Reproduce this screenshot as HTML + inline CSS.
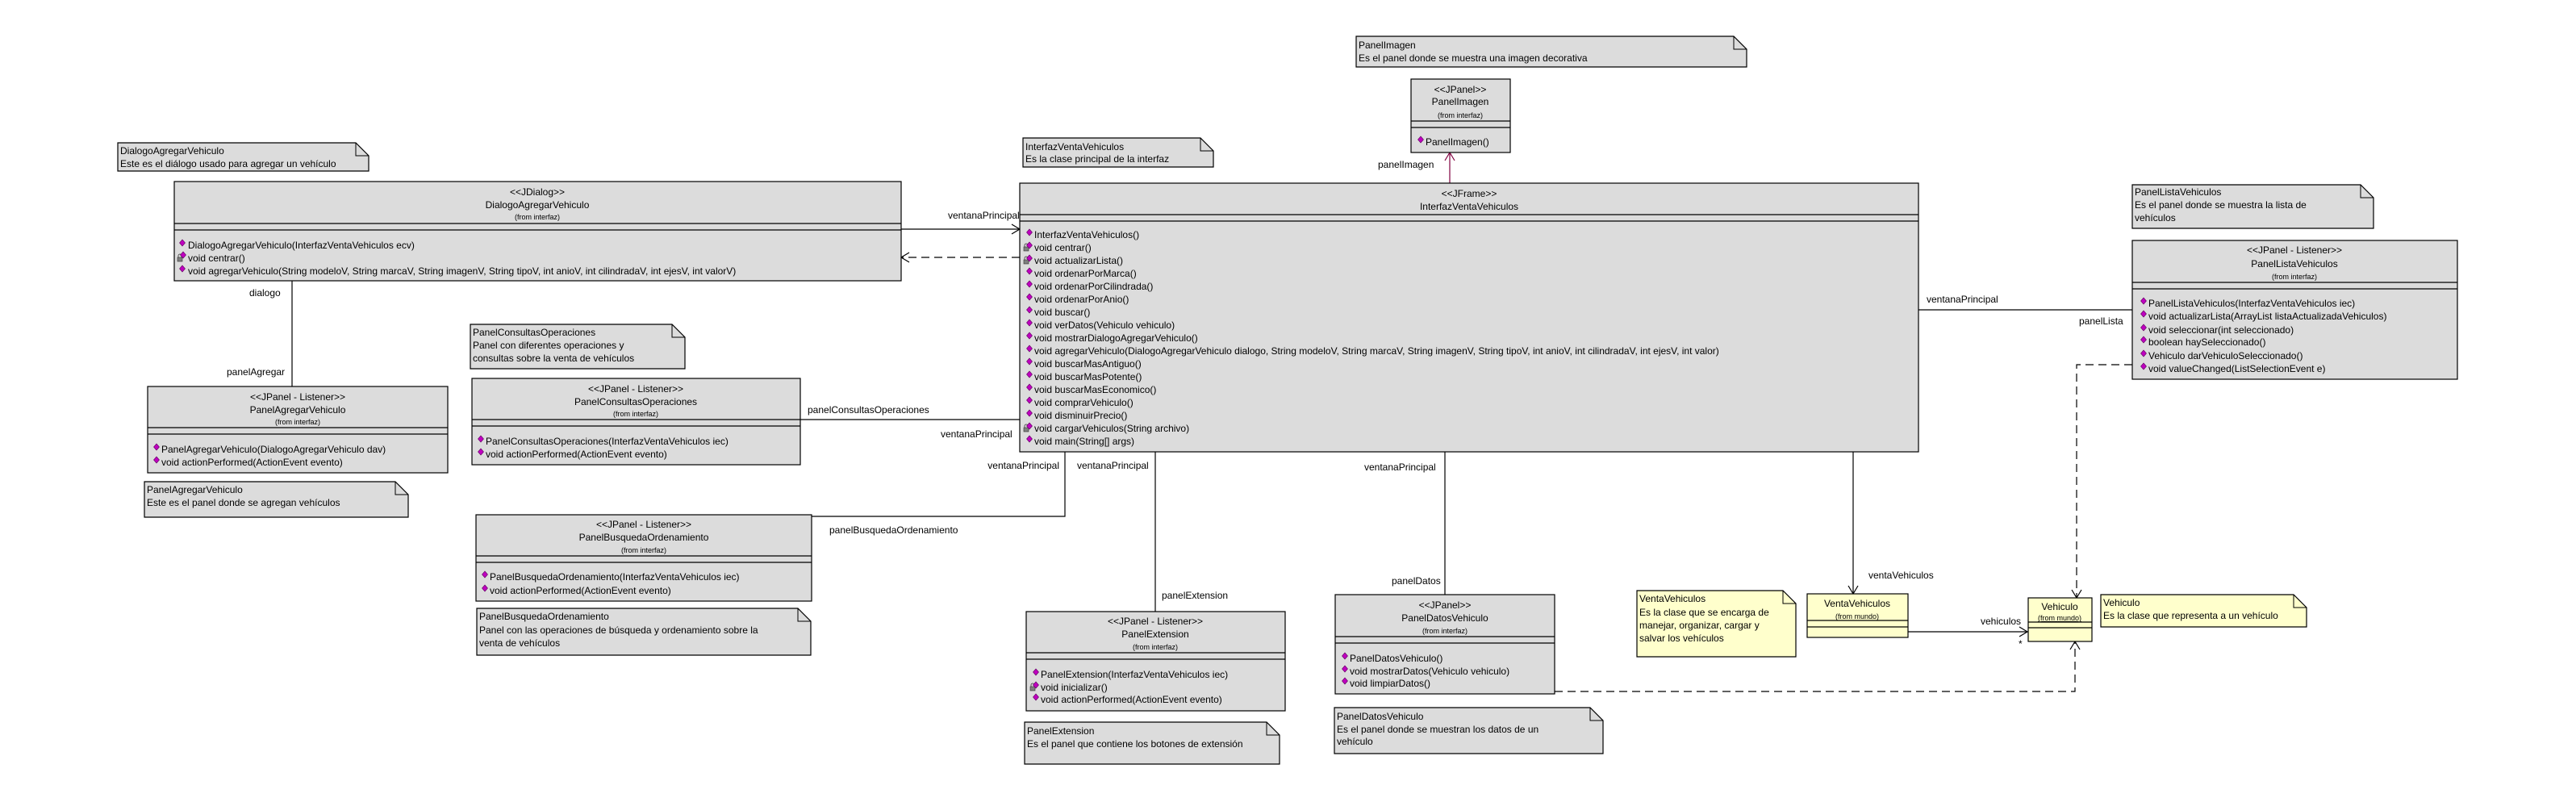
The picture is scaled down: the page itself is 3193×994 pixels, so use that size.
<!DOCTYPE html>
<html><head><meta charset="utf-8"><style>
html,body{margin:0;padding:0;background:#fff;}
svg{display:block;}
text{font-family:"Liberation Sans",Arial,sans-serif;font-size:12px;fill:#000;}
.s{font-size:9px;}
.c{text-anchor:middle;}
.e{text-anchor:end;}
</style></head><body>
<svg width="3193" height="994" viewBox="0 0 3193 994" xmlns="http://www.w3.org/2000/svg">
<defs>
<g id="d"><polygon points="0,-4 3.5,0 0,4 -3.5,0" fill="#c000c0" stroke="#600060" stroke-width="0.6"/></g>
<g id="l"><rect x="-3" y="-1" width="6" height="5" fill="#808080" stroke="#333" stroke-width="0.6"/><path d="M-2,-1 v-2 a2,2 0 0 1 4,0 v2" fill="none" stroke="#333" stroke-width="0.8"/></g>
</defs>
<rect width="3193" height="994" fill="#fff"/>

<!-- connectors -->
<g stroke="#000" stroke-width="1.2" fill="none">
<line x1="1117" y1="284" x2="1264" y2="284"/>
<polyline points="1254,278 1264,284 1254,290"/>
<line x1="1264" y1="319" x2="1117" y2="319" stroke-dasharray="10,6"/>
<polyline points="1127,313 1117,319 1127,325"/>
<line x1="362" y1="348" x2="362" y2="479"/>
<line x1="992" y1="520" x2="1264" y2="520"/>
<line x1="2378" y1="384" x2="2643" y2="384"/>
<polyline points="2643,452 2574,452 2574,741" stroke-dasharray="10,6"/>
<polyline points="2568,731 2574,741 2580,731"/>
<polyline points="1320,560 1320,640 1006,640"/>
<line x1="1432" y1="560" x2="1432" y2="758"/>
<line x1="1791" y1="560" x2="1791" y2="737"/>
<line x1="2297" y1="560" x2="2297" y2="736"/>
<polyline points="2291,726 2297,736 2303,726"/>
<line x1="2365" y1="783" x2="2513" y2="783"/>
<polyline points="2503,777 2513,783 2503,789"/>
<polyline points="1927,857 2572,857 2572,795" stroke-dasharray="10,6"/>
<polyline points="2566,805 2572,795 2578,805"/>
</g>
<g stroke="#800040" stroke-width="1.2" fill="none">
<line x1="1797" y1="227" x2="1797" y2="189"/>
<polyline points="1791,199 1797,189 1803,199"/>
</g>

<!-- connector labels -->
<text x="1175" y="271">ventanaPrincipal</text>
<text x="309" y="367">dialogo</text>
<text x="281" y="465">panelAgregar</text>
<text x="1001" y="512">panelConsultasOperaciones</text>
<text x="1166" y="542">ventanaPrincipal</text>
<text x="1708" y="208">panelImagen</text>
<text x="2388" y="375">ventanaPrincipal</text>
<text x="2577" y="402">panelLista</text>
<text x="1313" y="581" class="e">ventanaPrincipal</text>
<text x="1028" y="661">panelBusquedaOrdenamiento</text>
<text x="1335" y="581">ventanaPrincipal</text>
<text x="1440" y="742">panelExtension</text>
<text x="1691" y="583">ventanaPrincipal</text>
<text x="1725" y="724">panelDatos</text>
<text x="2316" y="717">ventaVehiculos</text>
<text x="2455" y="774">vehiculos</text>
<text x="2502" y="802">*</text>

<!-- notes -->
<g stroke="#000" stroke-width="1.2">
<path d="M146,177 H441 L457,193 V212 H146 Z" fill="#dcdcdc"/>
<path d="M179,597 H490 L506,613 V641 H179 Z" fill="#dcdcdc"/>
<path d="M583,402 H833 L849,418 V457 H583 Z" fill="#dcdcdc"/>
<path d="M1681,45 H2149 L2165,61 V83 H1681 Z" fill="#dcdcdc"/>
<path d="M1268,171 H1488 L1504,187 V207 H1268 Z" fill="#dcdcdc"/>
<path d="M2643,229 H2926 L2942,245 V283 H2643 Z" fill="#dcdcdc"/>
<path d="M591,754 H989 L1005,770 V812 H591 Z" fill="#dcdcdc"/>
<path d="M1270,895 H1570 L1586,911 V947 H1270 Z" fill="#dcdcdc"/>
<path d="M1654,877 H1971 L1987,893 V934 H1654 Z" fill="#dcdcdc"/>
<path d="M2029,732 H2210 L2226,748 V814 H2029 Z" fill="#ffffcc"/>
<path d="M2604,737 H2843 L2859,753 V777 H2604 Z" fill="#ffffcc"/>
</g>
<g fill="none" stroke="#000" stroke-width="1">
<polyline points="441,177 441,193 457,193"/>
<polyline points="490,597 490,613 506,613"/>
<polyline points="833,402 833,418 849,418"/>
<polyline points="2149,45 2149,61 2165,61"/>
<polyline points="1488,171 1488,187 1504,187"/>
<polyline points="2926,229 2926,245 2942,245"/>
<polyline points="989,754 989,770 1005,770"/>
<polyline points="1570,895 1570,911 1586,911"/>
<polyline points="1971,877 1971,893 1987,893"/>
<polyline points="2210,732 2210,748 2226,748"/>
<polyline points="2843,737 2843,753 2859,753"/>
</g>
<text x="149" y="191">DialogoAgregarVehiculo</text>
<text x="149" y="207">Este es el diálogo usado para agregar un vehículo</text>
<text x="182" y="611">PanelAgregarVehiculo</text>
<text x="182" y="627">Este es el panel donde se agregan vehículos</text>
<text x="586" y="416">PanelConsultasOperaciones</text>
<text x="586" y="432">Panel con diferentes operaciones y</text>
<text x="586" y="448">consultas sobre la venta de vehículos</text>
<text x="1684" y="60">PanelImagen</text>
<text x="1684" y="76">Es el panel donde se muestra una imagen decorativa</text>
<text x="1271" y="186">InterfazVentaVehiculos</text>
<text x="1271" y="201">Es la clase principal de la interfaz</text>
<text x="2646" y="242">PanelListaVehiculos</text>
<text x="2646" y="258">Es el panel donde se muestra la lista de</text>
<text x="2646" y="274">vehículos</text>
<text x="594" y="768">PanelBusquedaOrdenamiento</text>
<text x="594" y="785">Panel con las operaciones de búsqueda y ordenamiento sobre la</text>
<text x="594" y="801">venta de vehículos</text>
<text x="1273" y="910">PanelExtension</text>
<text x="1273" y="926">Es el panel que contiene los botones de extensión</text>
<text x="1657" y="892">PanelDatosVehiculo</text>
<text x="1657" y="908">Es el panel donde se muestran los datos de un</text>
<text x="1657" y="923">vehículo</text>
<text x="2032" y="746">VentaVehiculos</text>
<text x="2032" y="763">Es la clase que se encarga de</text>
<text x="2032" y="779">manejar, organizar, cargar y</text>
<text x="2032" y="795">salvar los vehículos</text>
<text x="2607" y="751">Vehiculo</text>
<text x="2607" y="767">Es la clase que representa a un vehículo</text>

<!-- class boxes -->
<g stroke="#000" stroke-width="1.2" fill="#dcdcdc">
<rect x="216" y="225" width="901" height="123"/>
<rect x="183" y="479" width="372" height="107"/>
<rect x="585" y="469" width="407" height="107"/>
<rect x="1264" y="227" width="1114" height="333"/>
<rect x="1749" y="98" width="123" height="91"/>
<rect x="2643" y="298" width="403" height="172"/>
<rect x="590" y="638" width="416" height="107"/>
<rect x="1272" y="758" width="321" height="123"/>
<rect x="1655" y="737" width="272" height="123"/>
<rect x="2240" y="736" width="125" height="54" fill="#ffffcc"/>
<rect x="2514" y="741" width="79" height="54" fill="#ffffcc"/>
</g>
<g stroke="#000" stroke-width="1.2">
<line x1="216" y1="277" x2="1117" y2="277"/><line x1="216" y1="285" x2="1117" y2="285"/>
<line x1="183" y1="530" x2="555" y2="530"/><line x1="183" y1="538" x2="555" y2="538"/>
<line x1="585" y1="520" x2="992" y2="520"/><line x1="585" y1="528" x2="992" y2="528"/>
<line x1="1264" y1="266" x2="2378" y2="266"/><line x1="1264" y1="274" x2="2378" y2="274"/>
<line x1="1749" y1="150" x2="1872" y2="150"/><line x1="1749" y1="158" x2="1872" y2="158"/>
<line x1="2643" y1="350" x2="3046" y2="350"/><line x1="2643" y1="358" x2="3046" y2="358"/>
<line x1="590" y1="689" x2="1006" y2="689"/><line x1="590" y1="697" x2="1006" y2="697"/>
<line x1="1272" y1="809" x2="1593" y2="809"/><line x1="1272" y1="817" x2="1593" y2="817"/>
<line x1="1655" y1="789" x2="1927" y2="789"/><line x1="1655" y1="797" x2="1927" y2="797"/>
<line x1="2240" y1="769" x2="2365" y2="769"/><line x1="2240" y1="777" x2="2365" y2="777"/>
<line x1="2514" y1="771" x2="2593" y2="771"/><line x1="2514" y1="778" x2="2593" y2="778"/>
</g>

<!-- Dialog -->
<text x="666" y="242" class="c">&lt;&lt;JDialog&gt;&gt;</text>
<text x="666" y="258" class="c">DialogoAgregarVehiculo</text>
<text x="666" y="272" class="c s">(from interfaz)</text>
<use href="#d" x="226" y="301"/><text x="233" y="308">DialogoAgregarVehiculo(InterfazVentaVehiculos ecv)</text>
<use href="#l" x="223" y="320"/><use href="#d" x="227" y="316"/><text x="233" y="324">void centrar()</text>
<use href="#d" x="226" y="333"/><text x="233" y="340">void agregarVehiculo(String modeloV, String marcaV, String imagenV, String tipoV, int anioV, int cilindradaV, int ejesV, int valorV)</text>

<!-- PanelAgregar -->
<text x="369" y="496" class="c">&lt;&lt;JPanel - Listener&gt;&gt;</text>
<text x="369" y="512" class="c">PanelAgregarVehiculo</text>
<text x="369" y="526" class="c s">(from interfaz)</text>
<use href="#d" x="194" y="554"/><text x="200" y="561">PanelAgregarVehiculo(DialogoAgregarVehiculo dav)</text>
<use href="#d" x="194" y="570"/><text x="200" y="577">void actionPerformed(ActionEvent evento)</text>

<!-- PanelConsultas -->
<text x="788" y="486" class="c">&lt;&lt;JPanel - Listener&gt;&gt;</text>
<text x="788" y="502" class="c">PanelConsultasOperaciones</text>
<text x="788" y="516" class="c s">(from interfaz)</text>
<use href="#d" x="596" y="544"/><text x="602" y="551">PanelConsultasOperaciones(InterfazVentaVehiculos iec)</text>
<use href="#d" x="596" y="560"/><text x="602" y="567">void actionPerformed(ActionEvent evento)</text>

<!-- Interfaz -->
<text x="1821" y="244" class="c">&lt;&lt;JFrame&gt;&gt;</text>
<text x="1821" y="260" class="c">InterfazVentaVehiculos</text>
<g>
<use href="#d" x="1276" y="288"/><text x="1282" y="295">InterfazVentaVehiculos()</text>
<use href="#l" x="1272" y="307"/><use href="#d" x="1276" y="304"/><text x="1282" y="311">void centrar()</text>
<use href="#l" x="1272" y="323"/><use href="#d" x="1276" y="320"/><text x="1282" y="327">void actualizarLista()</text>
<use href="#d" x="1276" y="336"/><text x="1282" y="343">void ordenarPorMarca()</text>
<use href="#d" x="1276" y="352"/><text x="1282" y="359">void ordenarPorCilindrada()</text>
<use href="#d" x="1276" y="368"/><text x="1282" y="375">void ordenarPorAnio()</text>
<use href="#d" x="1276" y="384"/><text x="1282" y="391">void buscar()</text>
<use href="#d" x="1276" y="400"/><text x="1282" y="407">void verDatos(Vehiculo vehiculo)</text>
<use href="#d" x="1276" y="416"/><text x="1282" y="423">void mostrarDialogoAgregarVehiculo()</text>
<use href="#d" x="1276" y="432"/><text x="1282" y="439">void agregarVehiculo(DialogoAgregarVehiculo dialogo, String modeloV, String marcaV, String imagenV, String tipoV, int anioV, int cilindradaV, int ejesV, int valor)</text>
<use href="#d" x="1276" y="448"/><text x="1282" y="455">void buscarMasAntiguo()</text>
<use href="#d" x="1276" y="464"/><text x="1282" y="471">void buscarMasPotente()</text>
<use href="#d" x="1276" y="480"/><text x="1282" y="487">void buscarMasEconomico()</text>
<use href="#d" x="1276" y="496"/><text x="1282" y="503">void comprarVehiculo()</text>
<use href="#d" x="1276" y="512"/><text x="1282" y="519">void disminuirPrecio()</text>
<use href="#l" x="1272" y="531"/><use href="#d" x="1276" y="528"/><text x="1282" y="535">void cargarVehiculos(String archivo)</text>
<use href="#d" x="1276" y="544"/><text x="1282" y="551">void main(String[] args)</text>
</g>

<!-- PanelImagen -->
<text x="1810" y="115" class="c">&lt;&lt;JPanel&gt;&gt;</text>
<text x="1810" y="130" class="c">PanelImagen</text>
<text x="1810" y="146" class="c s">(from interfaz)</text>
<use href="#d" x="1761" y="173"/><text x="1767" y="180">PanelImagen()</text>

<!-- PanelLista -->
<text x="2844" y="314" class="c">&lt;&lt;JPanel - Listener&gt;&gt;</text>
<text x="2844" y="331" class="c">PanelListaVehiculos</text>
<text x="2844" y="346" class="c s">(from interfaz)</text>
<use href="#d" x="2657" y="373"/><text x="2663" y="380">PanelListaVehiculos(InterfazVentaVehiculos iec)</text>
<use href="#d" x="2657" y="389"/><text x="2663" y="396">void actualizarLista(ArrayList listaActualizadaVehiculos)</text>
<use href="#d" x="2657" y="406"/><text x="2663" y="413">void seleccionar(int seleccionado)</text>
<use href="#d" x="2657" y="421"/><text x="2663" y="428">boolean haySeleccionado()</text>
<use href="#d" x="2657" y="438"/><text x="2663" y="445">Vehiculo darVehiculoSeleccionado()</text>
<use href="#d" x="2657" y="454"/><text x="2663" y="461">void valueChanged(ListSelectionEvent e)</text>

<!-- PanelBusqueda -->
<text x="798" y="654" class="c">&lt;&lt;JPanel - Listener&gt;&gt;</text>
<text x="798" y="670" class="c">PanelBusquedaOrdenamiento</text>
<text x="798" y="685" class="c s">(from interfaz)</text>
<use href="#d" x="601" y="712"/><text x="607" y="719">PanelBusquedaOrdenamiento(InterfazVentaVehiculos iec)</text>
<use href="#d" x="601" y="729"/><text x="607" y="736">void actionPerformed(ActionEvent evento)</text>

<!-- PanelExtension -->
<text x="1432" y="774" class="c">&lt;&lt;JPanel - Listener&gt;&gt;</text>
<text x="1432" y="790" class="c">PanelExtension</text>
<text x="1432" y="805" class="c s">(from interfaz)</text>
<use href="#d" x="1284" y="833"/><text x="1290" y="840">PanelExtension(InterfazVentaVehiculos iec)</text>
<use href="#l" x="1280" y="852"/><use href="#d" x="1284" y="849"/><text x="1290" y="856">void inicializar()</text>
<use href="#d" x="1284" y="864"/><text x="1290" y="871">void actionPerformed(ActionEvent evento)</text>

<!-- PanelDatos -->
<text x="1791" y="754" class="c">&lt;&lt;JPanel&gt;&gt;</text>
<text x="1791" y="770" class="c">PanelDatosVehiculo</text>
<text x="1791" y="785" class="c s">(from interfaz)</text>
<use href="#d" x="1667" y="813"/><text x="1673" y="820">PanelDatosVehiculo()</text>
<use href="#d" x="1667" y="829"/><text x="1673" y="836">void mostrarDatos(Vehiculo vehiculo)</text>
<use href="#d" x="1667" y="844"/><text x="1673" y="851">void limpiarDatos()</text>

<!-- VentaVehiculos / Vehiculo -->
<text x="2302" y="752" class="c">VentaVehiculos</text>
<text x="2302" y="767" class="c s">(from mundo)</text>
<text x="2553" y="756" class="c">Vehiculo</text>
<text x="2553" y="769" class="c s" text-decoration="underline">(from mundo)</text>
</svg>
</body></html>
